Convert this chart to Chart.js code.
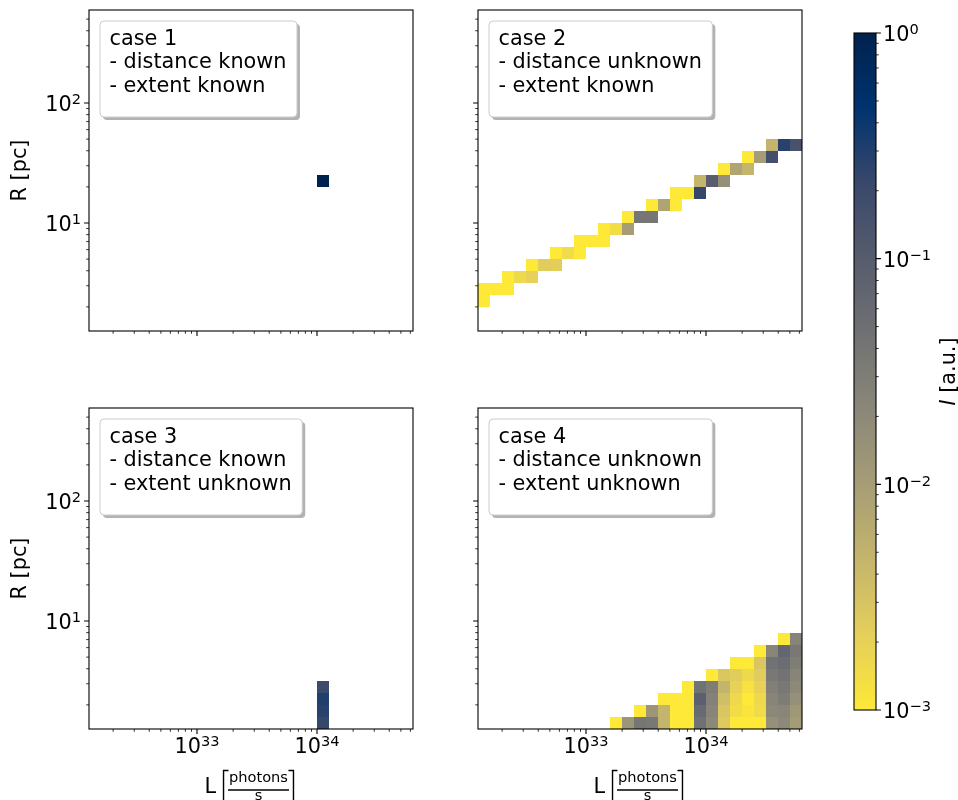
<!DOCTYPE html>
<html lang="en">
<head>
    <meta charset="UTF-8">
    <title>Luminosity / radius likelihood</title>
    <script src="https://cdn.jsdelivr.net/npm/chart.js"></script>
    <style>
        body { margin: 0; background: #fff; }
        #figure { position: relative; width: 958px; height: 800px; overflow: hidden; }
        #figure canvas { position: absolute; }
    </style>
</head>
<body>
<div id="figure">
    <canvas id="case1" width="420" height="400" style="left:0;top:0"></canvas>
    <canvas id="case2" width="400" height="400" style="left:420px;top:0"></canvas>
    <canvas id="case3" width="420" height="400" style="left:0;top:400px"></canvas>
    <canvas id="case4" width="400" height="400" style="left:420px;top:400px"></canvas>
    <canvas id="colorbar" width="128" height="800" style="left:830px;top:0"></canvas>
</div>
<script>
const FONT = '"DejaVu Sans", sans-serif';
Chart.defaults.font.family = FONT;
Chart.defaults.font.size = 20.8;
Chart.defaults.color = '#000';

// bins are 0.1 dex wide in both L and R
const BIN_DEX = 0.1;
const lumMin = 10 ** 32.1, lumMax = 10 ** 34.8;
const radiusMin = 10 ** 0.1, radiusMax = 10 ** 2.775;
const intensityMin = 1e-3, intensityMax = 1;

// tick values and the exponent shown after "10"
const lumTicks = [1e33, 1e34];
const lumTickExps = ['33', '34'];
const radiusTicks = [1e1, 1e2];
const radiusTickExps = ['1', '2'];
const intensityTicks = [1e-3, 1e-2, 1e-1, 1];
const intensityTickExps = ['\u22123', '\u22122', '\u22121', '0'];

const case1Text = ['case 1', '- distance known', '- extent known'];
const case2Text = ['case 2', '- distance unknown', '- extent known'];
const case3Text = ['case 3', '- distance known', '- extent unknown'];
const case4Text = ['case 4', '- distance unknown', '- extent unknown'];

// one entry per R bin: lower edge log10(R), lower edge log10(L) of the first cell, intensities along L
const case1Cells = [
    { logR: 1.3, logL: 34.0, I: [1.0] }
];
const case2Cells = [
    { logR: 0.3, logL: 32.1, I: [0.001] },
    { logR: 0.4, logL: 32.1, I: [0.001, 0.001, 0.001] },
    { logR: 0.5, logL: 32.3, I: [0.001, 0.0016, 0.002] },
    { logR: 0.6, logL: 32.5, I: [0.001, 0.0023, 0.0022] },
    { logR: 0.7, logL: 32.7, I: [0.001, 0.0015, 0.001] },
    { logR: 0.8, logL: 32.9, I: [0.001, 0.001, 0.001] },
    { logR: 0.9, logL: 33.1, I: [0.001, 0.0014, 0.010] },
    { logR: 1.0, logL: 33.3, I: [0.001, 0.039, 0.039] },
    { logR: 1.1, logL: 33.5, I: [0.001, 0.008, 0.001] },
    { logR: 1.2, logL: 33.7, I: [0.001, 0.001, 0.22] },
    { logR: 1.3, logL: 33.9, I: [0.0047, 0.095, 0.016] },
    { logR: 1.4, logL: 34.1, I: [0.001, 0.008, 0.0047] },
    { logR: 1.5, logL: 34.3, I: [0.001, 0.010, 0.165] },
    { logR: 1.6, logL: 34.5, I: [0.0047, 0.27, 0.145] }
];
const case3Cells = [
    { logR: 0.1, logL: 34.0, I: [0.22] },
    { logR: 0.2, logL: 34.0, I: [0.27] },
    { logR: 0.3, logL: 34.0, I: [0.30] },
    { logR: 0.4, logL: 34.0, I: [0.20] }
];
const case4Cells = [
    { logR: 0.1, logL: 33.2, I: [0.001, 0.013, 0.039, 0.036, 0.0047, 0.001, 0.001, 0.047, 0.02, 0.0025, 0.001, 0.001, 0.001, 0.016, 0.02, 0.0103] },
    { logR: 0.2, logL: 33.4, I: [0.001, 0.013, 0.0047, 0.001, 0.001, 0.059, 0.023, 0.0028, 0.0014, 0.0011, 0.0015, 0.021, 0.022, 0.012] },
    { logR: 0.3, logL: 33.6, I: [0.001, 0.001, 0.001, 0.089, 0.026, 0.0035, 0.0016, 0.001, 0.0016, 0.023, 0.032, 0.016] },
    { logR: 0.4, logL: 33.8, I: [0.001, 0.045, 0.03, 0.0047, 0.002, 0.0012, 0.002, 0.028, 0.036, 0.02] },
    { logR: 0.5, logL: 34.0, I: [0.001, 0.0027, 0.0023, 0.0016, 0.0023, 0.036, 0.043, 0.023] },
    { logR: 0.6, logL: 34.2, I: [0.001, 0.001, 0.0028, 0.045, 0.053, 0.03] },
    { logR: 0.7, logL: 34.4, I: [0.001, 0.022, 0.068, 0.036] },
    { logR: 0.8, logL: 34.6, I: [0.001, 0.023] }
];

// cividis, dark end first; high intensity maps to the dark end
const cividis = ['#00224e', '#00336f', '#39486b', '#575c6d', '#707173',
                 '#8a8779', '#a69d75', '#c4b56c', '#e4cf5b', '#fee838'];
const cividisRgb = cividis.map(h => [1, 3, 5].map(i => parseInt(h.slice(i, i + 2), 16)));

function intensityColor(v) {
    const n = cividisRgb.length - 1;
    const t = Math.min(1, Math.max(0, -Math.log10(v) / 3)) * n;
    const i = Math.min(Math.floor(t), n - 1), f = t - i;
    const c = cividisRgb[i].map((a, k) => Math.round(a + (cividisRgb[i + 1][k] - a) * f));
    return `rgb(${c})`;
}

function cellsFrom(rows) {
    const cells = [];
    rows.forEach(row => row.I.forEach((v, i) => {
        const l0 = row.logL + i * BIN_DEX;
        cells.push({
            x: 10 ** (l0 + BIN_DEX / 2), y: 10 ** (row.logR + BIN_DEX / 2),
            x0: 10 ** l0, x1: 10 ** (l0 + BIN_DEX),
            y0: 10 ** row.logR, y1: 10 ** (row.logR + BIN_DEX),
            v
        });
    }));
    return cells;
}

function minorTicks(min, max) {
    const out = [];
    for (let e = Math.floor(Math.log10(min)); e <= Math.ceil(Math.log10(max)); e++) {
        for (let m = 2; m <= 9; m++) {
            const v = m * 10 ** e;
            if (v >= min && v <= max) out.push(v);
        }
    }
    return out;
}

function strokeTicks(ctx, scale, values, len, width, side) {
    const a = scale.chart.chartArea;
    ctx.lineWidth = width;
    ctx.beginPath();
    values.forEach(v => {
        const p = scale.getPixelForValue(v);
        if (side === 'bottom') { ctx.moveTo(p, a.bottom); ctx.lineTo(p, a.bottom + len); }
        if (side === 'left') { ctx.moveTo(a.left, p); ctx.lineTo(a.left - len, p); }
        if (side === 'right') { ctx.moveTo(a.right, p); ctx.lineTo(a.right + len, p); }
    });
    ctx.stroke();
}

// "10" with a raised, smaller exponent
function powerLabel(ctx, exp, x, y, align) {
    ctx.font = '20.8px ' + FONT;
    const wb = ctx.measureText('10').width;
    ctx.font = '14.6px ' + FONT;
    const we = ctx.measureText(exp).width;
    const w = wb + we;
    const x0 = align === 'center' ? x - w / 2 : align === 'right' ? x - w : x;
    ctx.textAlign = 'left';
    ctx.textBaseline = 'alphabetic';
    ctx.font = '20.8px ' + FONT;
    ctx.fillText('10', x0, y);
    ctx.font = '14.6px ' + FONT;
    ctx.fillText(exp, x0 + wb, y - 7);
}

function tickLabels(ctx, scale, values, exps, side) {
    const a = scale.chart.chartArea;
    ctx.fillStyle = '#000';
    values.forEach((v, i) => {
        const p = scale.getPixelForValue(v);
        if (side === 'bottom') powerLabel(ctx, exps[i], p, a.bottom + 24.3, 'center');
        if (side === 'left') powerLabel(ctx, exps[i], a.left - 8, p + 7.8, 'right');
        if (side === 'right') powerLabel(ctx, exps[i], a.right + 7, p + 8.2, 'left');
    });
}

function roundedBox(ctx, x, y, w, h, r) {
    ctx.beginPath();
    ctx.moveTo(x + r, y);
    ctx.arcTo(x + w, y, x + w, y + h, r);
    ctx.arcTo(x + w, y + h, x, y + h, r);
    ctx.arcTo(x, y + h, x, y, r);
    ctx.arcTo(x, y, x + w, y, r);
    ctx.closePath();
}

// 2d histogram cells, placed through the chart's log scales
const heatmapCells = {
    id: 'heatmapCells',
    beforeDatasetsDraw(chart) {
        const { ctx, scales: { x, y } } = chart;
        ctx.save();
        chart.data.datasets.forEach(ds => ds.data.forEach(p => {
            const l = Math.round(x.getPixelForValue(p.x0));
            const r = Math.round(x.getPixelForValue(p.x1));
            const t = Math.round(y.getPixelForValue(p.y1));
            const b = Math.round(y.getPixelForValue(p.y0));
            ctx.fillStyle = intensityColor(p.v);
            ctx.fillRect(l, t, r - l, b - t);
        }));
        ctx.restore();
    }
};

// box spines, outward major/minor ticks on bottom and left, tick labels
const panelFrame = {
    id: 'panelFrame',
    afterDraw(chart, args, opts) {
        const { ctx, chartArea: a, scales: { x, y } } = chart;
        ctx.save();
        ctx.strokeStyle = '#000';
        strokeTicks(ctx, x, lumTicks, 4.9, 1.1, 'bottom');
        strokeTicks(ctx, x, minorTicks(lumMin, lumMax), 2.8, 0.8, 'bottom');
        strokeTicks(ctx, y, radiusTicks, 4.9, 1.1, 'left');
        strokeTicks(ctx, y, minorTicks(radiusMin, radiusMax), 2.8, 0.8, 'left');
        ctx.lineWidth = 1.1;
        ctx.strokeRect(a.left, a.top, a.width, a.height);
        if (opts.showL) tickLabels(ctx, x, lumTicks, lumTickExps, 'bottom');
        if (opts.showR) tickLabels(ctx, y, radiusTicks, radiusTickExps, 'left');
        ctx.restore();
    }
};

const caseBox = {
    id: 'caseBox',
    afterDraw(chart, args, opts) {
        const { ctx, chartArea: a } = chart;
        const lines = opts.lines;
        ctx.save();
        ctx.font = '20.8px ' + FONT;
        const w = Math.max(...lines.map(s => ctx.measureText(s).width)) + 20;
        const h = 96, x = a.left + 11, y = a.top + 11;
        ctx.fillStyle = 'rgba(0,0,0,0.3)';
        roundedBox(ctx, x + 3, y + 3, w, h, 4);
        ctx.fill();
        ctx.fillStyle = '#fff';
        ctx.strokeStyle = '#cccccc';
        ctx.lineWidth = 1;
        roundedBox(ctx, x, y, w, h, 4);
        ctx.fill();
        ctx.stroke();
        ctx.fillStyle = '#000';
        ctx.textBaseline = 'alphabetic';
        lines.forEach((s, i) => ctx.fillText(s, x + 9.5, y + 24 + i * 23.35));
        ctx.restore();
    }
};

// L [photons / s] with a stacked fraction between tall brackets
const lumTitle = {
    id: 'lumTitle',
    afterDraw(chart, args, opts) {
        if (!opts.display) return;
        const { ctx, chartArea: a } = chart;
        const fc = (a.left + a.right) / 2 + 7.5;
        const b = a.bottom;
        ctx.save();
        ctx.fillStyle = '#000';
        ctx.strokeStyle = '#000';
        ctx.font = '14.6px ' + FONT;
        const fw = ctx.measureText('photons').width;
        ctx.textAlign = 'center';
        ctx.textBaseline = 'alphabetic';
        ctx.fillText('photons', fc, b + 53);
        ctx.fillText('s', fc, b + 71);
        ctx.lineWidth = 1.4;
        ctx.beginPath();
        ctx.moveTo(fc - fw / 2 - 1, b + 61);
        ctx.lineTo(fc + fw / 2 + 1, b + 61);
        ctx.stroke();
        const xl = fc - fw / 2 - 5.5, xr = fc + fw / 2 + 5.5;
        ctx.beginPath();
        ctx.moveTo(xl + 5, b + 41.5); ctx.lineTo(xl, b + 41.5); ctx.lineTo(xl, b + 80); ctx.lineTo(xl + 5, b + 80);
        ctx.moveTo(xr - 5, b + 41.5); ctx.lineTo(xr, b + 41.5); ctx.lineTo(xr, b + 80); ctx.lineTo(xr - 5, b + 80);
        ctx.stroke();
        ctx.font = '20.8px ' + FONT;
        ctx.textAlign = 'right';
        ctx.fillText('L', fc - fw / 2 - 13, b + 64.3);
        ctx.restore();
    }
};

function panel(id, rows, lines, o) {
    return new Chart(document.getElementById(id), {
        type: 'scatter',
        data: { datasets: [{ data: cellsFrom(rows), pointRadius: 0, pointHoverRadius: 0 }] },
        options: {
            responsive: false,
            animation: false,
            events: [],
            layout: { padding: o.padding },
            plugins: {
                legend: { display: false },
                tooltip: { enabled: false },
                panelFrame: { showL: o.showL, showR: o.showR },
                caseBox: { lines },
                lumTitle: { display: o.showL }
            },
            scales: {
                x: {
                    type: 'logarithmic', min: lumMin, max: lumMax, bounds: 'data',
                    grid: { display: false, drawTicks: false }, border: { display: false },
                    afterBuildTicks: s => { s.ticks = lumTicks.map(value => ({ value })); },
                    afterFit: s => { s.height = o.xHeight; s.paddingLeft = 0; s.paddingRight = 0; },
                    ticks: { display: false }
                },
                y: {
                    type: 'logarithmic', min: radiusMin, max: radiusMax, bounds: 'data',
                    grid: { display: false, drawTicks: false }, border: { display: false },
                    afterBuildTicks: s => { s.ticks = radiusTicks.map(value => ({ value })); },
                    afterFit: s => { s.width = o.yWidth; s.paddingTop = 0; s.paddingBottom = 0; },
                    title: { display: o.showR, text: 'R [pc]', padding: { top: 8.5, bottom: 0 } },
                    ticks: { display: false }
                }
            }
        },
        plugins: [heatmapCells, panelFrame, caseBox, lumTitle]
    });
}

panel('case1', case1Cells, case1Text, { padding: { top: 10, right: 7 }, xHeight: 69, yWidth: 89, showL: false, showR: true });
panel('case2', case2Cells, case2Text, { padding: { top: 10, right: 18 }, xHeight: 69, yWidth: 58, showL: false, showR: false });
panel('case3', case3Cells, case3Text, { padding: { top: 8, right: 7 }, xHeight: 71, yWidth: 89, showL: true, showR: true });
panel('case4', case4Cells, case4Text, { padding: { top: 8, right: 18 }, xHeight: 71, yWidth: 58, showL: true, showR: false });

// colour scale: one row per pixel, coloured by the value the y scale gives that pixel
const colorbarFill = {
    id: 'colorbarFill',
    afterDraw(chart) {
        const { ctx, chartArea: a, scales: { y } } = chart;
        ctx.save();
        for (let py = Math.round(a.top); py < Math.round(a.bottom); py++) {
            ctx.fillStyle = intensityColor(y.getValueForPixel(py + 0.5));
            ctx.fillRect(a.left, py, a.width, 1);
        }
        ctx.strokeStyle = '#000';
        strokeTicks(ctx, y, intensityTicks, 4.9, 1.1, 'right');
        strokeTicks(ctx, y, minorTicks(intensityMin, intensityMax), 2.8, 0.8, 'right');
        ctx.lineWidth = 1.1;
        ctx.strokeRect(a.left, a.top, a.width, a.height);
        tickLabels(ctx, y, intensityTicks, intensityTickExps, 'right');

        ctx.fillStyle = '#000';
        ctx.translate(125, (a.top + a.bottom) / 2);
        ctx.rotate(-Math.PI / 2);
        ctx.textAlign = 'left';
        ctx.textBaseline = 'alphabetic';
        ctx.font = 'italic 20.8px ' + FONT;
        const wi = ctx.measureText('I').width;
        ctx.font = '20.8px ' + FONT;
        const wr = ctx.measureText(' [a.u.]').width;
        const x0 = -(wi + wr) / 2;
        ctx.fillText(' [a.u.]', x0 + wi, 0);
        ctx.font = 'italic 20.8px ' + FONT;
        ctx.fillText('I', x0, 0);
        ctx.restore();
    }
};

new Chart(document.getElementById('colorbar'), {
    type: 'scatter',
    data: { datasets: [] },
    options: {
        responsive: false,
        animation: false,
        events: [],
        layout: { padding: { left: 24, top: 33, bottom: 90, right: 0 } },
        plugins: { legend: { display: false }, tooltip: { enabled: false } },
        scales: {
            x: { display: false },
            y: {
                type: 'logarithmic', position: 'right', min: intensityMin, max: intensityMax, bounds: 'data',
                grid: { display: false, drawTicks: false }, border: { display: false },
                afterBuildTicks: s => { s.ticks = intensityTicks.map(value => ({ value })); },
                afterFit: s => { s.width = 82; s.paddingTop = 0; s.paddingBottom = 0; },
                ticks: { display: false }
            }
        }
    },
    plugins: [colorbarFill]
});
</script>
</body>
</html>
